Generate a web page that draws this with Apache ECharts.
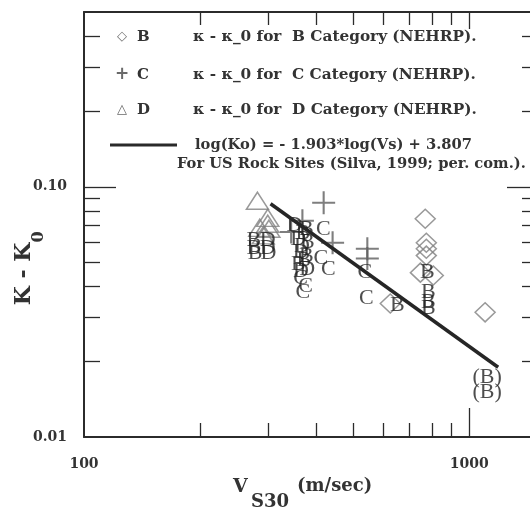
<!DOCTYPE html>
<html>
<head>
<meta charset="utf-8">
<script src="https://cdn.jsdelivr.net/npm/echarts@6/dist/echarts.min.js"></script>
<style>html,body{margin:0;padding:0;background:#fff;overflow:hidden;width:530px;height:508px}#c{width:545px;height:508px}</style>
</head>
<body>
<div id="c"></div>
<script>
// ---- data (Vs30 in m/s, kappa - kappa0) ----
var catBDiamonds = [[769,0.0746],[774,0.0598],[774,0.0566],[774,0.0531],[747,0.0454],[807,0.0442],[624,0.0342],[1100,0.0315]];
var catCPluses = [[419,0.0864],[369,0.0732],[345,0.066],[442,0.0598],[544,0.0566],[544,0.0517]];
var catDTriangles = [[282,0.088],[300,0.0752],[300,0.0712],[286,0.0686],[302,0.068],[292,0.064]];
var siteLetters = [
  [276,0.061,'B'],[300,0.061,'D'],[276,0.057,'B'],[300,0.057,'D'],[278,0.0545,'B'],[301,0.0545,'D'],
  [352,0.070,'D'],[378,0.068,'B'],[360,0.062,'D'],[380,0.060,'B'],[365,0.055,'D'],[378,0.053,'B'],
  [370,0.065,'B'],[368,0.058,'D'],[372,0.051,'B'],[366,0.046,'D'],
  [360,0.049,'B'],[380,0.047,'D'],[365,0.043,'C'],[376,0.040,'C'],[370,0.038,'C'],
  [418,0.068,'C'],[412,0.052,'C'],[431,0.047,'C'],
  [536,0.0454,'C'],[541,0.0358,'C'],
  [651,0.0336,'B'],[779,0.0454,'B'],[783,0.0378,'B'],[783,0.0345,'B'],[783,0.0327,'B'],
  [1113,0.0173,'(B)'],[1113,0.0151,'(B)']
];
var silvaLine = [[305,0.0856],[1189,0.0190]];
var xMinorTicks = [200,300,400,500,600,700,800,900];
var xMajorTicks = [1000];
var xTickLabels = [100,1000];
var yMinorTicks = [0.02,0.03,0.04,0.05,0.06,0.07,0.08,0.09,0.2,0.3,0.4];
var yMajorTicks = [0.1];
var yTickLabels = [0.01,0.1];
var legendRows = [
  {sym:'\u25C7', cat:'B', text:'\u03BA - \u03BA_0 for  B Category (NEHRP).'},
  {sym:'+', cat:'C', text:'\u03BA - \u03BA_0 for  C Category (NEHRP).'},
  {sym:'\u25B3', cat:'D', text:'\u03BA - \u03BA_0 for  D Category (NEHRP).'}
];
var lineLegend1 = 'log(Ko) = - 1.903*log(Vs) + 3.807';
var lineLegend2 = 'For US Rock Sites (Silva, 1999; per. com.).';

var FONT = 'DejaVu Serif';
var AX = '#2b2b2b';
function xAx(pos, ticks, len, labels, showLine){
  return {type:'log', logBase:10, min:100, max:1500, position:pos,
    axisLine:{show:showLine, lineStyle:{color:AX, width:2}},
    axisTick:{show:true, inside:true, length:len, customValues:ticks, lineStyle:{color:AX,width:1.3}},
    axisLabel: labels ? {show:true, customValues:labels, margin:20, fontFamily:FONT, fontWeight:'bold', fontSize:14, color:'#333',
      formatter:function(v){return String(Math.round(v));}} : {show:false},
    splitLine:{show:false}, minorTick:{show:false}};
}
function yAx(pos, ticks, len, labels, showLine){
  return {type:'log', logBase:10, min:0.01, max:0.5, position:pos,
    axisLine:{show:showLine, lineStyle:{color:AX, width:2}},
    axisTick:{show:true, inside:true, length:len, customValues:ticks, lineStyle:{color:AX,width:1.3}},
    axisLabel: labels ? {show:true, customValues:labels, margin:17, fontFamily:FONT, fontWeight:'bold', fontSize:14, color:'#333',
      formatter:function(v){return Number(v).toFixed(2);}} : {show:false},
    splitLine:{show:false}, minorTick:{show:false}};
}

var graphics = [];
var rowY = [37, 75, 110];
legendRows.forEach(function(r, i){
  graphics.push({type:'text', x:122, y:rowY[i], style:{text:r.sym, font:(r.sym==='+'?'bold 17px ':'13px ')+'"DejaVu Sans"', fill:'#6a6a6a', align:'center', verticalAlign:'middle'}});
  graphics.push({type:'text', x:137, y:rowY[i], style:{text:r.cat, font:'bold 15px "'+FONT+'"', fill:'#333', align:'left', verticalAlign:'middle'}});
  graphics.push({type:'text', x:193, y:rowY[i], style:{text:r.text, font:'bold 15.3px "'+FONT+'"', fill:'#333', align:'left', verticalAlign:'middle'}});
});
graphics.push({type:'line', shape:{x1:110,y1:145,x2:177,y2:145}, style:{stroke:'#2a2a2a', lineWidth:3}});
graphics.push({type:'text', x:195, y:145, style:{text:lineLegend1, font:'bold 14.7px "'+FONT+'"', fill:'#333', align:'left', verticalAlign:'middle'}});
graphics.push({type:'text', x:177, y:164, style:{text:lineLegend2, font:'bold 14.7px "'+FONT+'"', fill:'#333', align:'left', verticalAlign:'middle'}});
// axis titles
graphics.push({type:'text', x:233, y:487, style:{text:'V', font:'bold 19px "'+FONT+'"', fill:'#333', align:'left', verticalAlign:'middle'}});
graphics.push({type:'text', x:251, y:502, style:{text:'S30', font:'bold 18px "'+FONT+'"', fill:'#333', align:'left', verticalAlign:'middle'}});
graphics.push({type:'text', x:297, y:486, style:{text:'(m/sec)', font:'bold 18px "'+FONT+'"', fill:'#333', align:'left', verticalAlign:'middle'}});
graphics.push({type:'text', x:24, y:274, rotation:Math.PI/2, style:{text:'K - K', font:'bold 22px "'+FONT+'"', fill:'#333', align:'center', verticalAlign:'middle'}});
graphics.push({type:'text', x:39, y:237, rotation:Math.PI/2, style:{text:'0', font:'bold 16px "'+FONT+'"', fill:'#333', align:'center', verticalAlign:'middle'}});

var chart = echarts.init(document.getElementById('c'), null, {renderer:'canvas'});
chart.setOption({
  backgroundColor:'#ffffff',
  animation:false,
  grid:{left:84, top:12, right:8, bottom:71, containLabel:false},
  xAxis:[xAx('bottom', xMinorTicks, 14, xTickLabels, true), xAx('bottom', xMajorTicks, 29, null, false),
         xAx('top', xMinorTicks, 13, null, true), xAx('top', xMajorTicks, 17, null, false)],
  yAxis:[yAx('left', yMinorTicks, 16, yTickLabels, true), yAx('left', yMajorTicks, 32, null, false),
         yAx('right', yMinorTicks, 15, null, true), yAx('right', yMajorTicks, 30, null, false)],
  graphic: graphics,
  series:[
    {name:'B', type:'scatter', data:catBDiamonds, symbol:'diamond', symbolSize:[20,19],
     itemStyle:{color:'rgba(0,0,0,0)', borderColor:'#808080', borderWidth:1.5}, z:2},
    {name:'C', type:'scatter', data:catCPluses, symbol:'path://M10,0h2v10h10v2h-10v10h-2v-10h-10v-2h10z', symbolSize:23,
     itemStyle:{color:'#5e5e5e'}, z:2},
    {name:'D', type:'scatter', data:catDTriangles, symbol:'triangle', symbolSize:[22,17],
     itemStyle:{color:'rgba(0,0,0,0)', borderColor:'#808080', borderWidth:1.5}, z:2},
    {name:'Sites', type:'scatter', data:siteLetters, symbolSize:2, itemStyle:{color:'rgba(0,0,0,0)'},
     label:{show:true, position:'inside', formatter:function(p){return p.value[2];},
       fontFamily:'Liberation Serif', fontSize:22, color:'#222222', textBorderWidth:0}, z:3},
    {name:'Silva 1999', type:'line', data:silvaLine, symbol:'none', lineStyle:{color:'#262626', width:3.5}, z:4}
  ]
});
</script>
</body>
</html>
